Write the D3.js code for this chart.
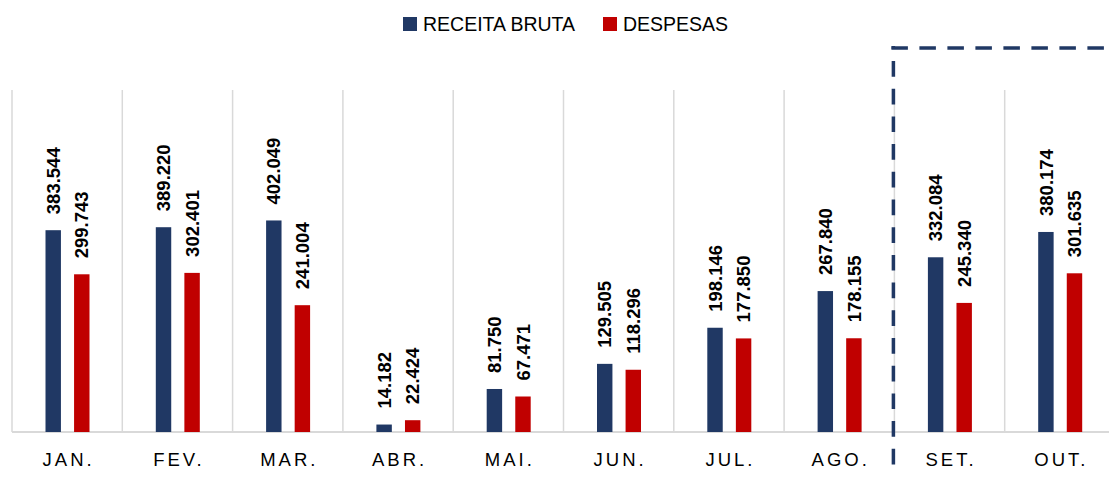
<!DOCTYPE html>
<html>
<head>
<meta charset="utf-8">
<script src="https://cdn.jsdelivr.net/npm/d3@7"></script>
<style>
  html, body { margin: 0; padding: 0; background: #fff; }
  svg { display: block; }
</style>
</head>
<body>
<svg id="chart" width="1109" height="478"></svg>
<script>
const months = ["JAN.", "FEV.", "MAR.", "ABR.", "MAI.", "JUN.", "JUL.", "AGO.", "SET.", "OUT."];
const seriesNames = ["RECEITA BRUTA", "DESPESAS"];
const receita = [383544, 389220, 402049, 14182, 81750, 129505, 198146, 267840, 332084, 380174];
const despesas = [299743, 302401, 241004, 22424, 67471, 118296, 177850, 178155, 245340, 301635];
const colors = ["#203864", "#C00000"];
const highlightFrom = "SET.";

const svg = d3.select("#chart");
const W = 1109, H = 478;
const yTop = 90, yBase = 432;
const fontFam = "'Liberation Sans', Arial, sans-serif";

const x0 = d3.scaleBand().domain(months).range([12, 1115]).padding(0);
const x1 = d3.scaleBand().domain(seriesNames).range([33.5, 77.5]).paddingInner(0.46).paddingOuter(0);
const y = d3.scaleLinear().domain([0, 650000]).range([yBase, yTop]);

const fmt = v => d3.format(",")(v).replace(/,/g, ".");

// vertical gridlines at band boundaries
const bounds = months.map(m => x0(m)).concat([x0.range()[1]]);
svg.append("g").selectAll("line").data(bounds).join("line")
  .attr("x1", d => d).attr("x2", d => d)
  .attr("y1", yTop).attr("y2", yBase)
  .attr("stroke", "#d9d9d9").attr("stroke-width", 1.5);

// baseline axis
svg.append("line")
  .attr("x1", 12).attr("x2", W)
  .attr("y1", yBase).attr("y2", yBase)
  .attr("stroke", "#d9d9d9").attr("stroke-width", 2);

const data = months.map((m, i) => ({ m, vals: [receita[i], despesas[i]] }));

const groups = svg.append("g").selectAll("g").data(data).join("g")
  .attr("transform", d => `translate(${x0(d.m)},0)`);

groups.selectAll("rect").data(d => d.vals.map((v, j) => ({ v, s: seriesNames[j], j })))
  .join("rect")
  .attr("x", d => x1(d.s))
  .attr("width", x1.bandwidth())
  .attr("y", d => y(d.v))
  .attr("height", d => yBase - y(d.v))
  .attr("fill", d => colors[d.j]);

groups.selectAll("text.val").data(d => d.vals.map((v, j) => ({ v, s: seriesNames[j], j })))
  .join("text")
  .attr("class", "val")
  .attr("transform", d => `translate(${x1(d.s) + x1.bandwidth() / 2},${y(d.v) - 16}) rotate(-90)`)
  .attr("dy", "0.36em")
  .attr("text-anchor", "start")
  .attr("font-family", fontFam)
  .attr("font-weight", "bold")
  .attr("font-size", 18.5)
  .attr("fill", "#000")
  .text(d => fmt(d.v));

// category labels
svg.append("g").selectAll("text").data(months).join("text")
  .attr("x", d => x0(d) + x0.bandwidth() / 2 + 1.5)
  .attr("y", 466)
  .attr("text-anchor", "middle")
  .attr("font-family", fontFam)
  .attr("font-size", 18.5)
  .attr("letter-spacing", 3)
  .attr("fill", "#000")
  .text(d => d);

// legend
const legend = svg.append("g");
const legX = [403, 603];
seriesNames.forEach((s, i) => {
  legend.append("rect").attr("x", legX[i]).attr("y", 17).attr("width", 14).attr("height", 14).attr("fill", colors[i]);
  legend.append("text").attr("x", legX[i] + 20).attr("y", 31)
    .attr("font-family", fontFam).attr("font-size", 19.5).attr("fill", "#000").text(s);
});

// dashed highlight frame
const xd = x0(highlightFrom);
svg.append("line")
  .attr("x1", xd - 1).attr("x2", xd - 1)
  .attr("y1", 46).attr("y2", 468)
  .attr("stroke", "#203864").attr("stroke-width", 3.5)
  .attr("stroke-dasharray", "15.7,12").attr("stroke-dashoffset", 12.7);
svg.append("line")
  .attr("x1", xd - 3).attr("x2", W)
  .attr("y1", 48).attr("y2", 48)
  .attr("stroke", "#203864").attr("stroke-width", 3.5)
  .attr("stroke-dasharray", "16.5,11.5");
</script>
</body>
</html>
